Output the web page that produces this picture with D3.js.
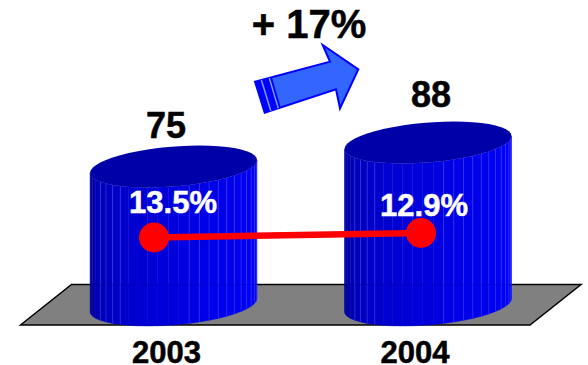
<!DOCTYPE html>
<html>
<head>
<meta charset="utf-8">
<script src="https://cdn.jsdelivr.net/npm/d3@7/dist/d3.min.js"></script>
<style>
html,body{margin:0;padding:0;background:#fff}
svg{display:block}
text{font-family:"Liberation Sans",Arial,sans-serif;font-weight:bold;stroke-width:0.5;paint-order:stroke}
</style>
</head>
<body>
<svg id="chart" width="588" height="365"></svg>
<script>
const years = ["2003", "2004"];
const sales = [75, 88];
const shares = [13.5, 12.9];
const growthLabel = "+ 17%";

const svg = d3.select("#chart");
const W = 83.5, DEPTH = 20, TILT = -6.5, FACETS = 50;

const x = d3.scalePoint().domain(years).range([173.5, 428]);
const h = d3.scaleLinear().domain([0, 88]).range([0, 162.5]);
const shareY = d3.scaleLinear().domain([12.9, 13.5]).range([233, 237.5]);
const shareX = d3.scalePoint().domain(years).range([154, 421]);
const BASE = 305;

// Floor slab under the cylinders
const floorShape = [[20.5, 325], [71.5, 284.5], [581, 284.5], [530, 325]];
svg.append("path")
  .attr("d", d3.line()(floorShape) + "Z")
  .attr("fill", "#808080").attr("stroke", "#000").attr("stroke-width", 1.5);

const facetShade = d3.scaleLinear()
  .domain([0, 0.25, 0.6, 1])
  .range(["#00009a", "#0000c8", "#0000e6", "#0000ff"]);

const rim = (cx, cy, t) => [cx + W * Math.cos(t), cy + DEPTH * Math.sin(t) + TILT * Math.cos(t)];

years.forEach((year, i) => {
  const cx = x(year);
  const top = BASE - h(sales[i]);
  const g = svg.append("g");
  const steps = d3.range(0, FACETS / 2).map(k => Math.PI - k * 2 * Math.PI / FACETS);

  // Front wall built from narrow vertical facets
  steps.forEach((t0, k) => {
    const t1 = t0 - 2 * Math.PI / FACETS;
    const a = rim(cx, top, t0), b = rim(cx, top, t1), c = rim(cx, BASE, t1), d = rim(cx, BASE, t0);
    g.append("path")
      .attr("d", d3.line()([a, b, c, d]) + "Z")
      .attr("fill", facetShade((k + 0.5) / (FACETS / 2)))
      .attr("stroke", facetShade((k + 0.5) / (FACETS / 2))).attr("stroke-width", 0.4);
    if ((k > 3 && k < 8) || k > 13) {
      g.append("line")
        .attr("x1", a[0]).attr("y1", a[1]).attr("x2", d[0]).attr("y2", d[1])
        .attr("stroke", "#6a6aff").attr("stroke-width", 0.6).attr("stroke-opacity", 0.55);
    }
  });

  // Lid
  g.append("path")
    .attr("d", d3.line()(d3.range(0, FACETS).map(k => rim(cx, top, k * 2 * Math.PI / FACETS))) + "Z")
    .attr("fill", "#0000a8");

  // Faint trace of the slab's back edge across the wall
  g.append("line")
    .attr("x1", cx - W).attr("x2", cx + W).attr("y1", 284.5).attr("y2", 284.5)
    .attr("stroke", "#000").attr("stroke-opacity", 0.1).attr("stroke-width", 1);
});

// Share line and its end markers
const sharePts = years.map((y, i) => [shareX(y), shareY(shares[i])]);
svg.append("path").attr("d", d3.line()(sharePts))
  .attr("fill", "none").attr("stroke", "#ff0000").attr("stroke-width", 6.5);
svg.selectAll("circle.share").data(sharePts).join("circle")
  .attr("class", "share").attr("cx", d => d[0]).attr("cy", d => d[1]).attr("r", 15).attr("fill", "#ff0000");

// Value, share and year labels
const label = (px, py, size, fill, str) => svg.append("text")
  .attr("x", px).attr("y", py).attr("text-anchor", "middle")
  .attr("font-size", size).attr("fill", fill).attr("stroke", fill).text(str);

const shareLabelX = [173, 424], shareLabelY = [213, 216];
const valueLabelX = [166, 431], valueLabelY = [138, 107];
const yearLabelX = [166.5, 415];
years.forEach((year, i) => {
  label(valueLabelX[i], valueLabelY[i], 36, "#000", sales[i]);
  label(shareLabelX[i], shareLabelY[i], 31, "#fff", shares[i].toFixed(1) + "%");
  label(yearLabelX[i], 363, 31, "#000", year);
});
label(309, 38, 40, "#000", growthLabel);

// Growth arrow with striped tail
const arrowShape = [[255, 81.7], [330, 61.7], [322.7, 45], [358.3, 69.3], [340, 108.3], [336, 89.3], [264.7, 112.7]];
svg.append("path").attr("d", d3.line()(arrowShape) + "Z")
  .attr("fill", "#3366ff").attr("stroke", "#0000ff").attr("stroke-width", 2).attr("stroke-linejoin", "miter");

const along = (p, q, u) => [p[0] + (q[0] - p[0]) * u, p[1] + (q[1] - p[1]) * u];
const across = (u0, u1) => d3.line()([
  along(arrowShape[0], arrowShape[1], u0), along(arrowShape[0], arrowShape[1], u1),
  along(arrowShape[6], arrowShape[5], u1), along(arrowShape[6], arrowShape[5], u0)
]) + "Z";
svg.append("path").attr("d", across(0, 0.225)).attr("fill", "#0000ff");
[0.075, 0.18].forEach(u => svg.append("path").attr("d", across(u, u + 0.02)).attr("fill", "#7a9cff"));
</script>
</body>
</html>
